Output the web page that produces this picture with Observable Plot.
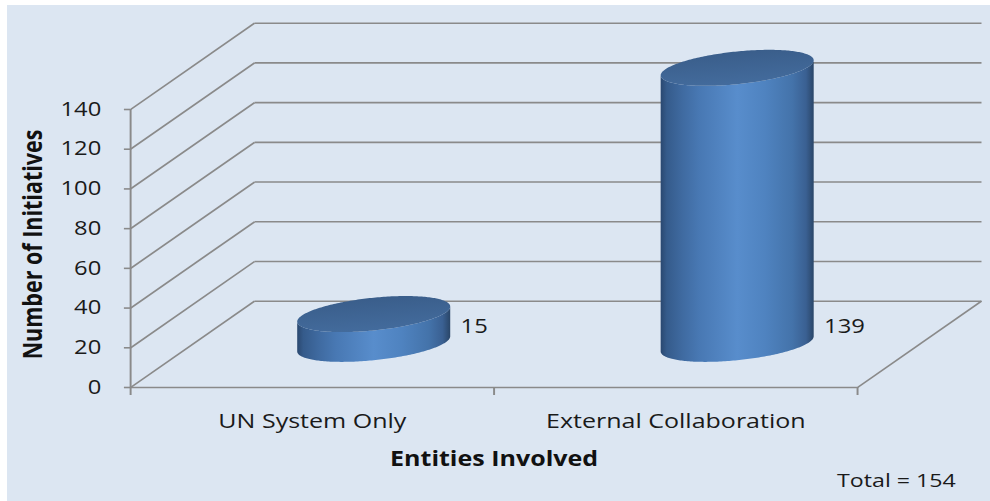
<!DOCTYPE html>
<html>
<head>
<meta charset="utf-8">
<script src="https://cdn.jsdelivr.net/npm/d3@7"></script>
<script src="https://cdn.jsdelivr.net/npm/@observablehq/plot@0.6"></script>
<style>
  html, body { margin: 0; padding: 0; background: #ffffff; }
  #chart { width: 990px; height: 501px; overflow: hidden; }
  #chart svg { display: block; }
</style>
</head>
<body>
<div id="chart"></div>
<script>
// ---- data ----
const categories = ["UN System Only", "External Collaboration"];
const values = [15, 139];
const yTicks = [0, 20, 40, 60, 80, 100, 120, 140];
const yTitle = "Number of Initiatives";
const xTitle = "Entities Involved";
const totalLabel = "Total = " + d3.sum(values);

// ---- layout / projection (styles, not data) ----
const W = 990, H = 501;
const PW = 811;                 // plot drawn at this width, then stretched horizontally to W
const depthX = 0.341;           // oblique depth in x-domain units
const depthY = 43.46;           // oblique depth in y-domain units
const radX = 0.2105;            // cylinder half-width (x units)
const radY = 8.25;              // ellipse half-height (y units)
const tilt = 3.8;               // ellipse shear (y units)
const gridStyle = {stroke: "#8a8a8a", strokeWidth: 1.6};
const textColor = "#1a1a1a";

const bars = categories.map((c, i) => ({
  c, i, v: values[i],
  center: i + 0.5,
  cx: i + 0.5 + depthX / 2,
  base: depthY / 2,
  top: values[i] + depthY / 2
}));

// outline of a cylinder's elliptical cross-section (shape geometry, not data)
function ellipse(b) {
  const n = 120, pts = [];
  for (let k = 0; k <= n; k++) {
    const th = Math.PI * k / n;
    const u = -Math.cos(th), s = Math.sin(th);
    pts.push({x: b.cx + radX * u, front: tilt * u - radY * s, back: tilt * u + radY * s, b});
  }
  return pts;
}

const cylMarks = bars.flatMap(b => {
  const pts = ellipse(b);
  return [
    Plot.areaY(pts, {x: "x", y1: d => d.b.base + d.front, y2: d => d.b.top + d.front, fill: "url(#cylBody)", curve: "linear"}),
    Plot.areaY(pts, {x: "x", y1: d => d.b.top + d.front, y2: d => d.b.top + d.back, fill: "url(#cylTop)", curve: "linear"})
  ];
});

const plot = Plot.plot({
  width: PW,
  height: H,
  marginLeft: 106.5,
  marginRight: 109,
  marginTop: 109,
  marginBottom: 114,
  style: {fontFamily: "'Open Sans', sans-serif", fontSize: "19.5px", color: textColor, background: "transparent", overflow: "visible"},
  x: {type: "linear", domain: [0, categories.length], axis: null},
  y: {type: "linear", domain: [0, 140], axis: null},
  marks: [
    // side wall (from front axis back into depth)
    Plot.link(yTicks, {x1: 0, y1: d => d, x2: depthX, y2: d => d + depthY, ...gridStyle}),
    // back wall gridlines
    Plot.link(yTicks, {x1: depthX, y1: d => d + depthY, x2: categories.length + depthX, y2: d => d + depthY, ...gridStyle}),
    // floor right edge
    Plot.link([0], {x1: categories.length, y1: d => d, x2: categories.length + depthX, y2: d => d + depthY, ...gridStyle}),
    // floor front edge and y axis line
    Plot.ruleY([0], gridStyle),
    Plot.ruleX([0], {y1: 0, y2: 140, ...gridStyle}),
    // y axis ticks and labels
    Plot.axisY(yTicks, {tickSize: 5, tickPadding: 19, stroke: "#8a8a8a", strokeWidth: 1.6, fontSize: 19.5, fill: textColor, label: null}),
    // x axis tick marks at band edges
    Plot.axisX(d3.range(categories.length + 1), {tickSize: 8, tickFormat: () => "", stroke: "#8a8a8a", strokeWidth: 1.6, label: null}),
    // category labels
    Plot.text(bars, {x: "center", y: 0, text: "c", dy: 34, fontSize: 20.5, fill: textColor}),
    // cylinders
    ...cylMarks,
    // value labels
    Plot.text(bars, {x: d => d.cx + radX, y: "base", text: d => String(d.v), textAnchor: "start", dx: 8, dy: -18, fontSize: 19.5, fill: textColor}),
    // titles
    Plot.text([yTitle], {frameAnchor: "left", textAnchor: "middle", rotate: -90, dx: -79.5, dy: -4, fontWeight: "bold", fontSize: 21.5, fill: "#111"}),
    Plot.text([xTitle], {frameAnchor: "bottom", textAnchor: "middle", dy: 78, fontWeight: "bold", fontSize: 20.5, fill: "#111"}),
    Plot.text([totalLabel], {frameAnchor: "bottom-right", textAnchor: "end", dx: 80.5, dy: 99, fontSize: 19, fill: textColor})
  ]
});

// gradients for the cylinder shading
const svg = plot.tagName.toLowerCase() === "svg" ? plot : plot.querySelector("svg");
const defs = d3.select(svg).insert("defs", ":first-child");
const body = defs.append("linearGradient").attr("id", "cylBody").attr("x1", 0).attr("x2", 1).attr("y1", 0).attr("y2", 0);
[[0, "#2a4870"], [0.04, "#355b8b"], [0.14, "#3f6aa0"], [0.25, "#4878b3"], [0.5, "#588dcc"],
 [0.68, "#4f83c0"], [0.86, "#4473aa"], [0.95, "#3a6092"], [1, "#2a4668"]]
  .forEach(([o, c]) => body.append("stop").attr("offset", o).attr("stop-color", c));
const topG = defs.append("linearGradient").attr("id", "cylTop").attr("x1", 0).attr("x2", 0.3).attr("y1", 0).attr("y2", 1);
[[0, "#385b87"], [1, "#436b9c"]].forEach(([o, c]) => topG.append("stop").attr("offset", o).attr("stop-color", c));

// stretch horizontally like the original picture
svg.setAttribute("viewBox", `0 0 ${PW} ${H}`);
svg.setAttribute("preserveAspectRatio", "none");
svg.setAttribute("width", W);
svg.setAttribute("height", H);
svg.style.width = W + "px";
svg.style.height = H + "px";
svg.style.maxWidth = "none";
svg.style.background = "linear-gradient(#dce6f2, #dce6f2) no-repeat 7px 5px / 983px 496px, #ffffff";

document.getElementById("chart").appendChild(plot);
</script>
</body>
</html>
